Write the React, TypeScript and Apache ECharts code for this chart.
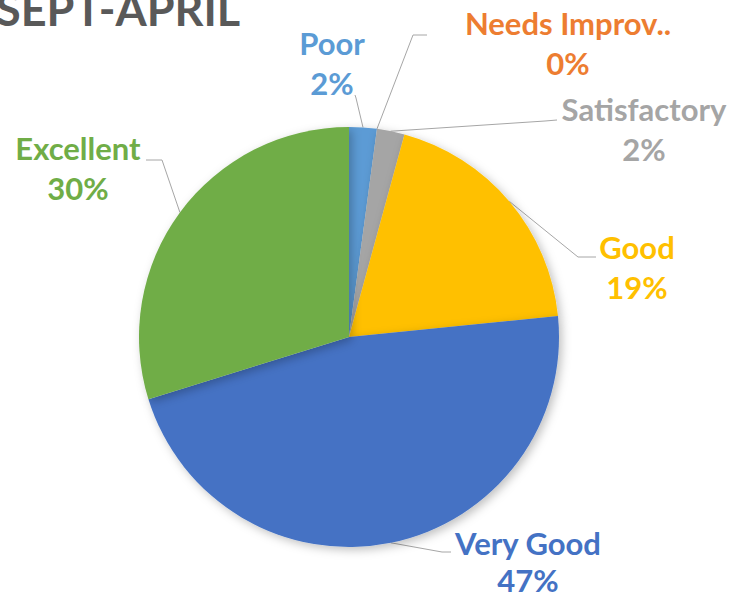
import React, { useEffect, useRef } from 'react';
import * as echarts from 'echarts';

const chartTitle = 'SEPT-APRIL';
const categories = ['Poor', 'Needs Improv..', 'Satisfactory', 'Good', 'Very Good', 'Excellent'];
const counts = [1, 0, 1, 9, 22, 14];
const colors = ['#5B9BD5', '#ED7D31', '#A5A5A5', '#FFC000', '#4472C4', '#70AD47'];

// layout only: label centres, line heights and leader-line elbow / end points
const labelCenters: number[][] = [
  [332, 63],
  [568, 43],
  [644, 129],
  [637, 267],
  [528, 561],
  [78, 168],
];
const labelLineHeights = [40, 40, 40, 40, 37, 40];
const leaderElbows: number[][] = [
  [356, 98],
  [413, 35],
  [545, 121],
  [578, 257],
  [442, 552],
  [162, 160],
];
const leaderEnds: number[][] = [
  [355, 95],
  [427, 35],
  [557, 120],
  [596, 257],
  [451, 552],
  [146, 160],
];

const CX = 349;
const CY = 337;
const R = 210;

export default function App() {
  const ref = useRef<HTMLDivElement>(null);
  useEffect(() => {
    if (!ref.current) return;
    const chart = echarts.init(ref.current, undefined, { renderer: 'svg' });
    const total = counts.reduce((a, b) => a + b, 0);
    const midAngles: number[] = [];
    let acc = 0;
    counts.forEach((v) => {
      midAngles.push(((acc + v / 2) / total) * Math.PI * 2);
      acc += v;
    });
    const data = categories.map((name, i) => ({
      name,
      value: counts[i],
      itemStyle: { color: colors[i] },
      label: { color: colors[i], lineHeight: labelLineHeights[i] },
    }));
    chart.setOption({
      animation: false,
      backgroundColor: '#ffffff',
      graphic: [
        {
          type: 'text',
          left: -4,
          top: -14,
          style: {
            text: chartTitle,
            fontSize: 45,
            fontWeight: 'bold',
            fontFamily: 'Lato',
            fill: '#595959',
          },
        },
      ],
      series: [
        {
          type: 'pie',
          center: [CX, CY],
          radius: R,
          startAngle: 90,
          clockwise: true,
          avoidLabelOverlap: false,
          itemStyle: {
            borderWidth: 0,
            shadowBlur: 10,
            shadowOffsetX: 3,
            shadowOffsetY: 3,
            shadowColor: 'rgba(0,0,0,0.25)',
          },
          label: {
            show: true,
            position: 'outside',
            formatter: (p: any) => `${p.name}\n${Math.round(p.percent)}%`,
            fontFamily: 'Lato',
            fontWeight: 'bold',
            fontSize: 31,
            lineHeight: 40,
            align: 'center',
          },
          labelLine: {
            show: true,
            length: 20,
            length2: 12,
            lineStyle: { color: '#A6A6A6', width: 1 },
          },
          labelLayout: (params: any) => {
            const i = params.dataIndex;
            const c = labelCenters[i];
            const a = midAngles[i];
            const arc = [CX + R * Math.sin(a), CY - R * Math.cos(a)];
            return {
              x: c[0],
              y: c[1],
              align: 'center',
              verticalAlign: 'middle',
              labelLinePoints: [arc, leaderElbows[i], leaderEnds[i]],
            };
          },
          data,
        },
      ],
    });
    return () => chart.dispose();
  }, []);
  return (
    <div
      ref={ref}
      style={{ position: 'fixed', left: 0, top: 0, width: 732, height: 598 }}
    />
  );
}
